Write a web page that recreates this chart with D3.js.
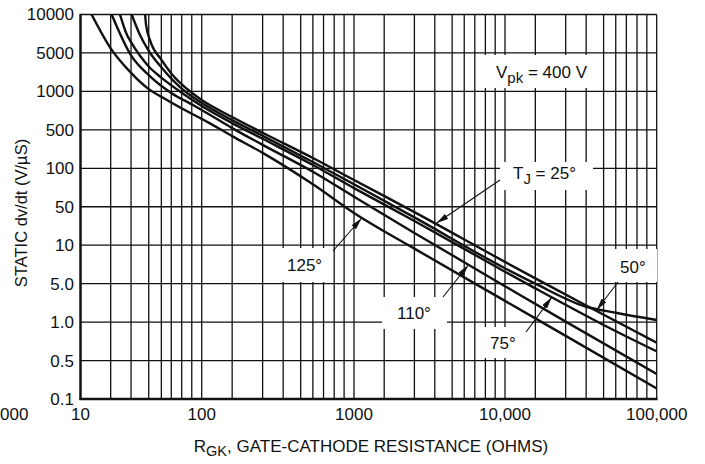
<!DOCTYPE html>
<html>
<head>
<meta charset="utf-8">
<script src="https://cdn.jsdelivr.net/npm/d3@7"></script>
<style>
  body { margin: 0; background: #fff; }
  svg { display: block; font-family: "Liberation Sans", Arial, sans-serif; }
</style>
</head>
<body>
<svg width="705" height="464"></svg>
<script>
// y axis: the sheet spaces these labels evenly
const yTickValues = [0.1, 0.5, 1, 5, 10, 50, 100, 500, 1000, 5000, 10000];
const yTickLabels = ["0.1", "0.5", "1.0", "5.0", "10", "50", "100", "500", "1000", "5000", "10000"];
const xDecades = [10, 100, 1000, 10000, 100000];
const xTickLabels = ["10", "100", "1000", "10,000", "100,000"];
const minorSteps = [2, 3, 4, 5, 6, 7, 8, 9];
const firstMinorSteps = [2, 3, 4, 5, 6, 7, 8];

// curves: R (ohms) vs dv/dt (V/us)
const r25 = [37.7, 38.3, 40.9, 50, 60, 80, 100, 200, 300, 600, 1000, 3000, 10000, 20000, 40000, 100000];
const dv25 = [10000, 8280, 6300, 3770, 2120, 975, 856, 630, 442, 154, 81, 40, 7.4, 5.5, 2.0, 0.69];
const r50 = [30.3, 34.7, 40, 50, 70, 100, 200, 300, 600, 1000, 3000, 10000, 20000, 40000, 60000, 100000];
const dv50 = [10000, 6900, 5200, 2740, 1120, 811, 596, 390, 130, 75, 32, 6.6, 5.0, 1.9, 1.48, 1.09];
const r75 = [24.1, 27.7, 30, 40, 50, 70, 100, 200, 300, 600, 1000, 3000, 10000, 20000, 50000, 100000];
const dv75 = [10000, 6900, 6070, 2840, 1780, 976, 768, 565, 344, 115, 70, 27.5, 6.2, 4.1, 0.95, 0.59];
const r110 = [20.4, 30, 40, 60, 80, 100, 200, 300, 600, 1000, 3000, 10000, 30000, 100000];
const dv110 = [10000, 4510, 1980, 973, 791, 715, 516, 267, 94, 60, 16.7, 4.5, 1.02, 0.285];
const r125 = [12.9, 20, 30, 40, 50, 80, 100, 200, 300, 600, 1000, 3000, 10000, 30000, 100000];
const dv125 = [10000, 5430, 2170, 1100, 907, 668, 610, 385, 191, 75, 38.6, 9.4, 2.43, 0.78, 0.156];

const curves = [
  { r: r25, v: dv25 }, { r: r50, v: dv50 }, { r: r75, v: dv75 },
  { r: r110, v: dv110 }, { r: r125, v: dv125 }
];

const svg = d3.select("svg");
const pLeft = 80.5, pRight = 656.7, pTop = 14.5, pBottom = 399;

// x axis spacing as drawn on the sheet (decade edges, place of the minor lines within a decade)
const decadeEdge = [pLeft, 201.7, 354, 505, pRight];
const firstFrac = [0, 0.249, 0.417, 0.563, 0.667, 0.749, 0.835, 0.918];
const stepFrac = [0, 0.2, 0.4, 0.535, 0.65, 0.73, 0.8, 0.87, 0.935];
const xDom = [], xRng = [];
for (let d = 0; d < 4; d++) {
  const steps = d === 0 ? firstMinorSteps : minorSteps;
  const frac = d === 0 ? firstFrac : stepFrac;
  [1].concat(steps).forEach((m, i) => {
    xDom.push(xDecades[d] * m);
    xRng.push(decadeEdge[d] + frac[i] * (decadeEdge[d + 1] - decadeEdge[d]));
  });
}
xDom.push(xDecades[4]); xRng.push(pRight);
const x = d3.scaleLog().domain(xDom).range(xRng);

const yStep = (pBottom - pTop) / (yTickValues.length - 1);
const y = d3.scaleLog().domain(yTickValues).range(yTickValues.map((_, i) => pBottom - i * yStep));

const ink = "#111";

// grid
const grid = svg.append("g").attr("stroke", ink).attr("stroke-width", 1.3);
grid.selectAll(".h").data(yTickValues).join("line").attr("class", "h")
  .attr("x1", pLeft).attr("x2", pRight)
  .attr("y1", d => y(d)).attr("y2", d => y(d));
grid.selectAll(".v").data(xDom).join("line").attr("class", "v")
  .attr("x1", d => x(d)).attr("x2", d => x(d))
  .attr("y1", pTop).attr("y2", pBottom);

// frame
svg.append("line").attr("x1", pLeft).attr("x2", pLeft).attr("y1", pTop - 0.7).attr("y2", pBottom + 1)
  .attr("stroke", ink).attr("stroke-width", 2.4);
svg.append("line").attr("x1", pLeft - 1).attr("x2", pRight + 0.8).attr("y1", pBottom).attr("y2", pBottom)
  .attr("stroke", ink).attr("stroke-width", 2.6);

// tick labels
svg.append("g").attr("font-size", 17).attr("text-anchor", "end").attr("fill", ink)
  .selectAll("text").data(yTickValues).join("text")
  .attr("x", 74).attr("y", d => y(d)).attr("dy", "0.35em")
  .text((d, i) => yTickLabels[i]);
svg.append("g").attr("font-size", 17).attr("text-anchor", "middle").attr("fill", ink)
  .selectAll("text").data(xDecades).join("text")
  .attr("x", d => x(d)).attr("y", 420)
  .text((d, i) => xTickLabels[i]);
// stray label at the left edge of the sheet
svg.append("text").attr("x", 0).attr("y", 420).attr("font-size", 17)
  .attr("fill", ink).text("000");

// axis titles
svg.append("text").attr("transform", "translate(27,213) rotate(-90)")
  .attr("text-anchor", "middle").attr("font-size", 16.5).attr("fill", ink)
  .text("STATIC dv/dt (V/\u00b5S)");
const xt = svg.append("text").attr("x", 371).attr("y", 452).attr("text-anchor", "middle")
  .attr("font-size", 17).attr("fill", ink);
xt.append("tspan").text("R");
xt.append("tspan").attr("dy", 4).attr("font-size", 14.5).text("GK");
xt.append("tspan").attr("dy", -4).text(", GATE-CATHODE RESISTANCE (OHMS)");

// curves
svg.append("clipPath").attr("id", "plot").append("rect")
  .attr("x", pLeft).attr("y", pTop).attr("width", pRight - pLeft).attr("height", pBottom - pTop);
const line = d3.line().x(d => x(d[0])).y(d => y(d[1])).curve(d3.curveMonotoneX);
svg.append("g").attr("clip-path", "url(#plot)")
  .selectAll("path").data(curves).join("path")
  .attr("d", c => line(c.r.map((r, i) => [r, c.v[i]])))
  .attr("fill", "none").attr("stroke", ink).attr("stroke-width", 2.4);

// labels with white boxes and arrows (tip given in data units)
svg.append("defs").append("marker").attr("id", "arr")
  .attr("markerUnits", "userSpaceOnUse").attr("viewBox", "0 0 12 6")
  .attr("refX", 12).attr("refY", 3).attr("markerWidth", 12).attr("markerHeight", 6)
  .attr("orient", "auto")
  .append("path").attr("d", "M0,0 L12,3 L0,6 Z").attr("fill", ink);

const notes = [
  { parts: [["V", 0], ["pk", 1], [" = 400 V", 0]], tx: 496, ty: 78, box: [484, 55, 116, 33] },
  { parts: [["T", 0], ["J", 1], [" = 25\u00b0", 0]], tx: 513, ty: 179, box: [500, 162, 93, 28], from: [500, 180], tip: [4100, 25.3] },
  { parts: [["125\u00b0", 0]], tx: 287, ty: 271, box: [282, 248, 51, 34], from: [333, 251], tip: [1190, 30.9] },
  { parts: [["110\u00b0", 0]], tx: 397, ty: 319, box: [382, 297, 65, 32], from: [443, 297], tip: [6370, 7.0] },
  { parts: [["75\u00b0", 0]], tx: 490, ty: 349, box: [480, 327, 47, 31], from: [526, 332], tip: [24900, 2.82] },
  { parts: [["50\u00b0", 0]], tx: 620, ty: 273, box: [615, 249, 42, 33], from: [618, 282], tip: [45800, 1.66] }
];
const ng = svg.append("g");
notes.forEach(n => {
  ng.append("rect").attr("x", n.box[0]).attr("y", n.box[1])
    .attr("width", n.box[2]).attr("height", n.box[3]).attr("fill", "#fff");
  const t = ng.append("text").attr("x", n.tx).attr("y", n.ty).attr("font-size", 17).attr("fill", ink);
  let sub = 0;
  n.parts.forEach(([s, isSub]) => {
    const ts = t.append("tspan").text(s);
    if (isSub !== sub) { ts.attr("dy", isSub ? 5 : -5); sub = isSub; }
    if (isSub) ts.attr("font-size", 15);
  });
  if (n.tip) {
    ng.append("line").attr("x1", n.from[0]).attr("y1", n.from[1])
      .attr("x2", x(n.tip[0])).attr("y2", y(n.tip[1]))
      .attr("stroke", ink).attr("stroke-width", 1.1).attr("marker-end", "url(#arr)");
  }
});
</script>
</body>
</html>
